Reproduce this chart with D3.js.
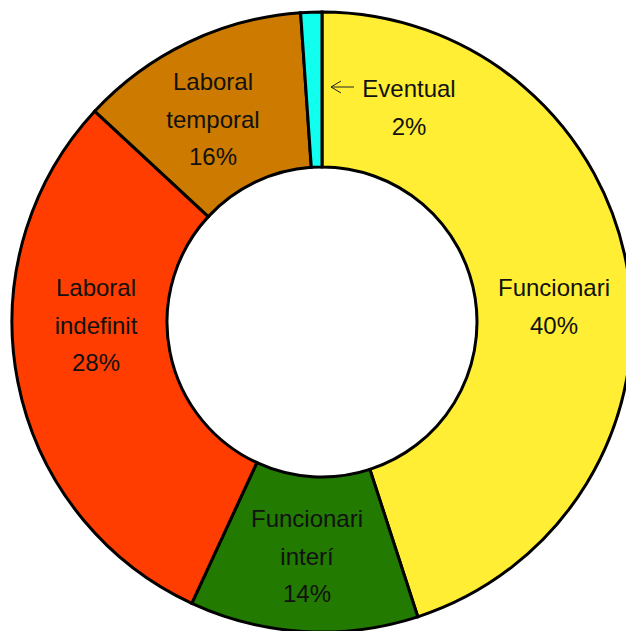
<!DOCTYPE html>
<html>
<head>
<meta charset="utf-8">
<script src="https://cdn.jsdelivr.net/npm/d3@7"></script>
<style>
  html, body { margin: 0; padding: 0; background: #fff; }
  svg { display: block; }
</style>
</head>
<body>
<svg id="chart" width="626" height="631"></svg>
<script>
// Data
const categories = ["Funcionari", "Funcionari interí", "Laboral indefinit", "Laboral temporal", "Eventual"];
const values = [45.0, 11.9, 30.0, 12.0, 1.1];          // arc sizes as drawn
const percentLabels = ["40%", "14%", "28%", "16%", "2%"]; // labels as printed
const labelLines = [["Funcionari"], ["Funcionari", "interí"], ["Laboral", "indefinit"], ["Laboral", "temporal"], ["Eventual"]];
const colors = ["#FFEE33", "#227A00", "#FF3D00", "#CC7A00", "#11FFEE"];

const svg = d3.select("#chart");
const cx = 322, cy = 322;
const outerR = 310, innerR = 155;

const g = svg.append("g").attr("transform", `translate(${cx},${cy})`);

const pie = d3.pie().sort(null).value(d => d).startAngle(0).endAngle(2 * Math.PI);
const arcs = pie(values);
const arc = d3.arc().innerRadius(innerR).outerRadius(outerR);

g.selectAll("path.slice")
  .data(arcs)
  .join("path")
  .attr("class", "slice")
  .attr("d", arc)
  .attr("fill", (d, i) => colors[i])
  .attr("stroke", "#000")
  .attr("stroke-width", 3)
  .attr("stroke-linejoin", "miter");

// Label anchor positions (layout, relative to the page)
const labelPos = [
  { x: 554, y: 296 },
  { x: 307, y: 527 },
  { x: 96,  y: 296 },
  { x: 213, y: 90 },
  { x: 409, y: 97 }
];
const lineH = 37.5;

const text = svg.append("g")
  .attr("font-family", "'Liberation Sans', Arial, sans-serif")
  .attr("font-size", 24)
  .attr("fill", "#111")
  .attr("text-anchor", "middle");

categories.forEach((c, i) => {
  const lines = labelLines[i].concat([percentLabels[i]]);
  lines.forEach((t, j) => {
    text.append("text")
      .attr("x", labelPos[i].x)
      .attr("y", labelPos[i].y + j * lineH)
      .text(t);
  });
});

// Arrow pointing at the small "Eventual" slice
const ar = svg.append("g").attr("stroke", "#222").attr("stroke-width", 1).attr("fill", "none");
ar.append("line").attr("x1", 331).attr("y1", 87).attr("x2", 354).attr("y2", 87);
ar.append("polyline").attr("points", "341,81 331,87 341,93");
</script>
</body>
</html>
